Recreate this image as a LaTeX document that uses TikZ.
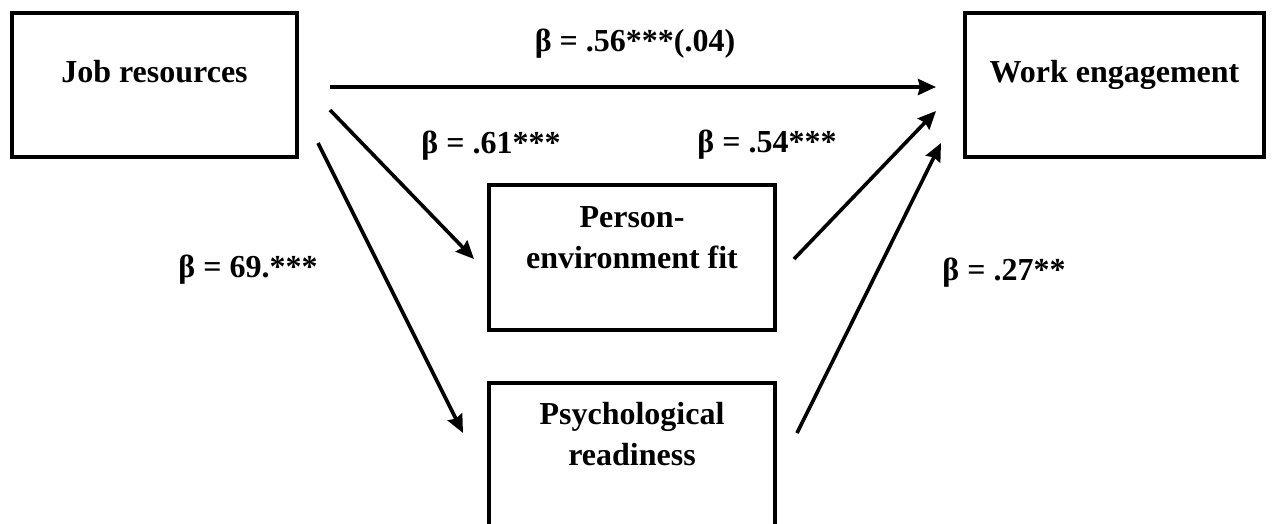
\documentclass[tikz,border=0pt]{standalone}
\usepackage{fontspec}
\setmainfont{Liberation Serif}
\usetikzlibrary{arrows.meta}

\begin{document}
\begin{tikzpicture}[x=1pt, y=-1pt,
    font=\bfseries\fontsize{32}{41}\selectfont,
    box/.style={draw, line width=3.8pt, anchor=north west, outer sep=0pt, inner sep=0pt},
    txt/.style={anchor=base, align=center, inner sep=0pt},
    arr/.style={line width=3.6pt, -{Stealth[length=18pt, width=16pt, inset=2pt]}}]
  \clip (0,0) rectangle (1277,523);
  % Kasten
  \node[box, minimum width=285, minimum height=144] (jr) at (12,13) {};
  \node[box, minimum width=299, minimum height=144] (we) at (965,13) {};
  \node[box, minimum width=286, minimum height=145] (pe) at (489,185) {};
  \node[box, minimum width=286, minimum height=145] (pr) at (489,383) {};
  \node[txt] (jrt) at (jr.center |- 0,82) {Job resources};
  \node[txt] (wet) at (we.center |- 0,82) {Work engagement};
  \node[txt] (pet) at (pe.center |- 0,268) {Person-\\environment fit};
  \node[txt] (prt) at (pr.center |- 0,465) {Psychological\\readiness};
  % Pfeilenden
  \coordinate (jr1) at (330,87);  \coordinate (we1) at (936,87);
  \coordinate (jr2) at (330,110); \coordinate (pe1) at (474,259);
  \coordinate (jr3) at (318,143); \coordinate (pr1) at (463,433);
  \coordinate (pe2) at (794,259); \coordinate (we2) at (936,111);
  \coordinate (pr2) at (797,433); \coordinate (we3) at (941,143);
  \draw[arr] (jr1) -- (we1);
  \draw[arr] (jr2) -- (pe1);
  \draw[arr] (jr3) -- (pr1);
  \draw[arr] (pe2) -- (we2);
  \draw[arr] (pr2) -- (we3);
  % Koeffizienten
  \node[txt] (b1) at (635,51)  {β = .56***(.04)};
  \node[txt] (b2) at (491,153) {β = .61***};
  \node[txt] (b3) at (767,152) {β = .54***};
  \node[txt] (b4) at (248,277) {β = 69.***};
  \node[txt] (b5) at (1004,280) {β = .27**};
\end{tikzpicture}
\end{document}
